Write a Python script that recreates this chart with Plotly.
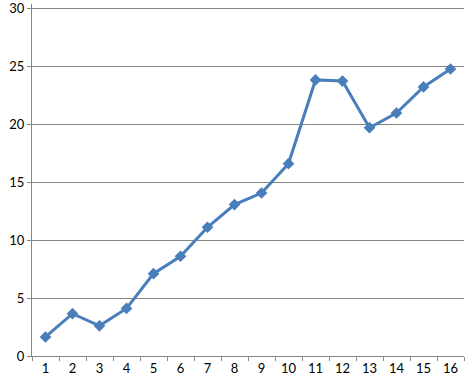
import plotly.graph_objects as go

categories = [str(i) for i in range(1, 17)]
values = [1.64, 3.65, 2.6, 4.1, 7.1, 8.6, 11.1, 13.05, 14.05, 16.58, 23.8, 23.7, 19.68, 20.95, 23.2, 24.74]
y_ticks = [0, 5, 10, 15, 20, 25, 30]

fig = go.Figure()
fig.add_trace(go.Scatter(
    x=categories, y=values, mode="lines+markers",
    line=dict(color="#4A7EBB", width=3),
    marker=dict(symbol="diamond", size=9, color="#4A7EBB"),
))

fig.update_layout(
    width=468, height=386,
    margin=dict(l=32, r=4, t=4, b=30),
    paper_bgcolor="white", plot_bgcolor="white",
    showlegend=False,
    font=dict(family="Lato", size=13, color="black"),
)
fig.update_xaxes(
    type="category", tickson="boundaries", ticks="outside", ticklen=4,
    tickcolor="#868686", showline=True, linecolor="#868686", linewidth=1,
    showgrid=False, range=[-0.5, 15.5], automargin=False,
)
fig.update_yaxes(
    range=[0, 30.345], tickvals=y_ticks, ticks="outside", ticklen=4,
    tickcolor="#868686", showline=True, linecolor="#868686", linewidth=1,
    showgrid=True, gridcolor="#868686", gridwidth=1, zeroline=False,
    automargin=False, ticklabeloverflow="allow",
)

fig.write_html("out.html")
